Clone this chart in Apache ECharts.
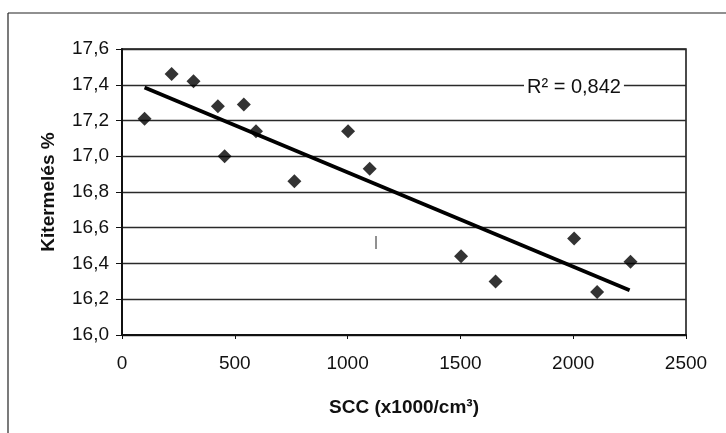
<!DOCTYPE html>
<html>
<head>
<meta charset="utf-8">
<script src="https://cdn.jsdelivr.net/npm/echarts@6/dist/echarts.min.js"></script>
<style>
html,body{margin:0;padding:0;background:#fff;}
#c{width:726px;height:433px;}
</style>
</head>
<body>
<div id="c"></div>
<script>
// Data
const scc = [100, 220, 317, 425, 455, 540, 594, 764, 1002, 1098, 1503, 1656, 2004, 2106, 2254];
const yieldPct = [17.21, 17.46, 17.42, 17.28, 17.00, 17.29, 17.14, 16.86, 17.14, 16.93, 16.44, 16.30, 16.54, 16.24, 16.41];
const trendX = [100, 2250];
const trendY = [17.385, 16.25];
const xTicks = [0, 500, 1000, 1500, 2000, 2500];
const yTicks = [16.0, 16.2, 16.4, 16.6, 16.8, 17.0, 17.2, 17.4, 17.6];
const r2Text = '0,842';

const FONT = 'Liberation Sans, Arial, sans-serif';
const chart = echarts.init(document.getElementById('c'), null, {renderer: 'canvas'});
chart.setOption({
  backgroundColor: '#fff',
  animation: false,
  grid: {left: 122, right: 40, top: 49, bottom: 98, show: true, borderColor: '#111', borderWidth: 1.5},
  xAxis: {
    type: 'value', min: xTicks[0], max: xTicks[xTicks.length - 1], interval: 500,
    name: 'SCC (x1000/cm\u00B3)', nameLocation: 'middle', nameGap: 63,
    nameTextStyle: {fontFamily: FONT, fontSize: 19, fontWeight: 'bold', color: '#111'},
    axisLine: {show: true, lineStyle: {color: '#111', width: 2}},
    axisTick: {show: true, length: 4, lineStyle: {color: '#111', width: 1}},
    axisLabel: {fontFamily: FONT, fontSize: 19, color: '#111', margin: 19,
      formatter: v => String(v)},
    splitLine: {show: false}
  },
  yAxis: {
    type: 'value', min: yTicks[0], max: yTicks[yTicks.length - 1], interval: 0.2,
    name: 'Kitermelés %', nameLocation: 'middle', nameGap: 64,
    nameTextStyle: {fontFamily: FONT, fontSize: 19, fontWeight: 'bold', color: '#111'},
    axisLine: {show: true, lineStyle: {color: '#111', width: 2}},
    axisTick: {show: true, length: 6, lineStyle: {color: '#111', width: 1}},
    axisLabel: {fontFamily: FONT, fontSize: 19, color: '#111', margin: 13,
      formatter: v => v.toFixed(1).replace('.', ',')},
    splitLine: {show: true, lineStyle: {color: '#2a2a2a', width: 1.3}}
  },
  series: [
    {
      type: 'line', data: trendX.map((x, i) => [x, trendY[i]]),
      symbol: 'none', lineStyle: {color: '#000', width: 3.8}, z: 3
    },
    {
      type: 'scatter', data: scc.map((x, i) => [x, yieldPct[i]]),
      symbol: 'diamond', symbolSize: 14, itemStyle: {color: '#000'}, z: 4
    }
  ],
  graphic: [
    {type: 'line', shape: {x1: 8, y1: 13, x2: 726, y2: 13}, style: {stroke: '#222', lineWidth: 1.2}},
    {type: 'line', shape: {x1: 8, y1: 13, x2: 8, y2: 433}, style: {stroke: '#222', lineWidth: 1.2}},
    {type: 'line', shape: {x1: 376, y1: 236, x2: 376, y2: 249}, style: {stroke: '#222', lineWidth: 1}},
    {type: 'text', left: 524, top: 75, z: 10,
      style: {text: 'R\u00B2 = ' + r2Text, font: '20px ' + FONT, fill: '#111', backgroundColor: '#fff', padding: [2, 3, 2, 3]}}
  ]
});
</script>
</body>
</html>
